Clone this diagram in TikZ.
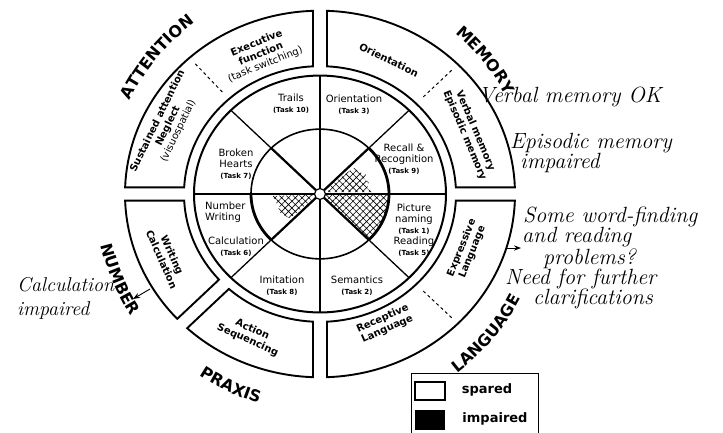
\documentclass[tikz,border=0pt]{standalone}
\usepackage{fontspec}
\setsansfont{DejaVu Sans}
\usetikzlibrary{arrows.meta,patterns.meta,decorations.text}

\tikzset{
    sector/.style={line width=1.9pt},
    hatched/.style={pattern={Hatch[angle=45,distance=4.8pt,line width=0.6pt]}},
    tasktext/.style={font=\sffamily\fontsize{10}{11}\selectfont, align=center, inner sep=1pt},
    boxtext/.style={font=\sffamily\bfseries\fontsize{10}{11.5}\selectfont, align=center, inner sep=1pt},
    note/.style={font=\itshape\fontsize{22}{20}\selectfont, align=left, inner sep=0pt},
    legendtext/.style={font=\sffamily\bfseries\fontsize{13}{14}\selectfont},
    domain/.style={decorate, decoration={text along path, text align=center,
        text={|\sffamily\bfseries\fontsize{16}{16}\selectfont|#1}}}
}
\newcommand{\tasknr}[1]{{\fontsize{7}{8}\selectfont\bfseries(Task #1)}}

\begin{document}
\begin{tikzpicture}[x=1pt, y=1pt, >=Stealth]
    \useasboundingbox (-320,-238) rectangle (403,194);

    \begin{scope}[yscale=0.94]
        % Hatched (impaired) parts of the inner circle
        \fill[hatched] (0,0) -- (0:69) arc[start angle=0, end angle=-45, radius=69] -- cycle;
        \fill[hatched] (8,2) -- (10,8) -- (20,17) -- (30,25) -- (35,28) -- (40,23) -- (46,21)
            -- (44,16) -- (49,12) -- (47,6) -- (52,2) -- cycle;
        \fill[hatched] (-7,-1) -- (-47,-2) -- (-45,-8) -- (-40,-14) -- (-43,-17) -- (-37,-22)
            -- (-30,-26) -- (-8,-6) -- cycle;

        % Spokes
        \foreach \a in {0,45,...,315} {
            \draw[line width=1.3pt] (0,0) -- (\a:126);
            \draw[line width=2.2pt] (0,0) -- (\a:69);
        }

        % Inner circle and task ring
        \draw[line width=1.6pt] (0,0) circle[radius=69];
        \draw[line width=2.8pt] (-45:69) arc[start angle=-45, end angle=45, radius=69];
        \draw[line width=2.8pt] (180:69) arc[start angle=180, end angle=225, radius=69];
        \draw[line width=2pt] (0,0) circle[radius=126];
        \node[circle, draw, fill=white, line width=1.2pt, minimum size=11pt, inner sep=0pt] (hub) at (0,0) {};

        % Outer boxes
        \foreach \a/\b in {0/90, 90/180, 180/225, 225/270, 270/360} {
            \draw[sector] ({\a+2.95}:136) -- ({\a+2.06}:195)
                arc[start angle=\a+2.06, end angle=\b-2.06, radius=195]
                -- ({\b-2.95}:136)
                arc[start angle=\b-2.95, end angle=\a+2.95, radius=136] -- cycle;
        }

        % Dashed dividers
        \foreach \a in {45,132,315} {
            \draw[dashed, line width=1pt] (\a:146) -- (\a:189);
        }
    \end{scope}

    % Tasks
    \node[tasktext] (trails) at (-29,90) {Trails\\\tasknr{10}};
    \node[tasktext] (orient) at (34,89) {Orientation\\\tasknr{3}};
    \node[tasktext] (recall) at (84,35) {Recall \&\\Recognition\\\tasknr{9}};
    \node[tasktext] (broken) at (-84,30) {Broken\\Hearts\\\tasknr{7}};
    \node[tasktext, anchor=west, align=left] (numwrite) at (-116,-18) {Number\\Writing};
    \node[tasktext] (calc) at (-84,-53) {Calculation\\\tasknr{6}};
    \node[tasktext] (imit) at (-38,-92) {Imitation\\\tasknr{8}};
    \node[tasktext] (seman) at (37,-92) {Semantics\\\tasknr{2}};
    \node[tasktext] (picture) at (94,-36) {Picture\\naming\\\tasknr{1}\\Reading\\\tasknr{5}};

    % Functions
    \node[boxtext, rotate=22] (exec) at (-59,140) {Executive\\function\\{\mdseries(task switching)}};
    \node[boxtext, rotate=64] (sustain) at (-152,68) {Sustained attention\\Neglect\\{\mdseries(visuospatial)}};
    \node[boxtext, rotate=-26] (orientbox) at (69,134) {Orientation};
    \node[boxtext, rotate=-67] (verbal) at (150,61) {Verbal memory\\Episodic memory};
    \node[boxtext, rotate=-66] (writing) at (-153,-63) {Writing\\Calculation};
    \node[boxtext, rotate=-24] (action) at (-70,-141) {Action\\Sequencing};
    \node[boxtext, rotate=24] (receptive) at (65,-130) {Receptive\\Language};
    \node[boxtext, rotate=68] (expressive) at (147,-56) {Expressive\\Language};

    % Domains
    \path[domain=ATTENTION] (165:212) arc[start angle=165, end angle=115, radius=212];
    \path[domain=MEMORY] (64:210) arc[start angle=64, end angle=14, radius=210];
    \path[domain=NUMBER] (178:225) arc[start angle=178, end angle=228, radius=225];
    \path[domain=PRAXIS] (220:218) arc[start angle=220, end angle=270, radius=218];
    \path[domain=LANGUAGE] (295:226) arc[start angle=295, end angle=345, radius=226];

    % Notes
    \node[note] (verbalnote) at (250,97) {Verbal memory OK};
    \node[note, anchor=west] (episodicnote) at (190,41) {Episodic memory\\\hspace*{10pt}impaired};
    \node[note, anchor=west] (langnote) at (185,-64) {\hspace*{18pt}Some word-finding\\\hspace*{17pt}and reading\\\hspace*{38pt}problems?\\Need for further\\\hspace*{28pt}clarifications};
    \node[note, anchor=west, font=\itshape\fontsize{20}{24}\selectfont] (calcnote) at (-303,-104) {Calculation\\impaired};

    \coordinate (numedge) at (-170,-95);
    \coordinate (numtip) at (-187,-105);
    \draw[->, line width=0.9pt] (numedge) -- (numtip);
    \coordinate (langedge) at (187,-54);
    \coordinate (langtip) at (201,-54);
    \draw[->, line width=0.9pt] (langedge) -- (langtip);

    % Legend
    \node[draw, line width=1.4pt, minimum width=127pt, minimum height=70pt, anchor=north west] (legend) at (91,-179) {};
    \node[draw, line width=1.4pt, minimum width=30pt, minimum height=18pt, inner sep=0pt] (spared) at (110,-197) {};
    \node[fill=black, minimum width=30pt, minimum height=20pt, inner sep=0pt] (impaired) at (110,-226) {};
    \node[legendtext] (sparedlbl) at (167,-196) {spared};
    \node[legendtext] (impairedlbl) at (175,-225) {impaired};
\end{tikzpicture}
\end{document}
